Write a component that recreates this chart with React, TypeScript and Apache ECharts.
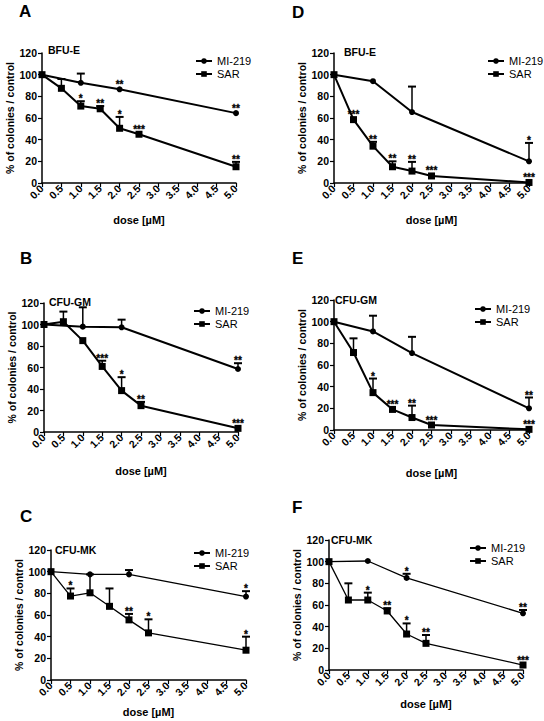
import React, { useEffect, useRef } from "react";
import * as echarts from "echarts";

const FONT = "Liberation Sans, Arial, sans-serif";

// doses
const miDoses = [0, 1, 2, 5];
const sarDoses = [0, 0.5, 1, 1.5, 2, 2.5, 5];
const xTickValues = [0, 0.5, 1, 1.5, 2, 2.5, 3, 3.5, 4, 4.5, 5];

// A  BFU-E
const miA = [100, 92.5, 86.5, 64.5];
const miAErr = [null, 101, null, null];
const miASig = ["", "", "**", "**"];
const sarA = [100, 87.4, 71, 68.5, 50.5, 45, 15];
const sarAErr = [null, 96, 75.5, 71, 61, null, 19.5];
const sarASig = ["", "", "*", "**", "*", "***", "**"];

// D  BFU-E
const miD = [100, 94, 65.5, 20];
const miDErr = [null, null, 89, 37];
const miDSig = ["", "", "", "*"];
const sarD = [100, 58.5, 34, 15, 11, 6.5, 0.5];
const sarDErr = [null, null, 38, 20, 19.5, null, null];
const sarDSig = ["", "***", "**", "**", "**", "***", "***"];

// B  CFU-GM
const miB = [100, 98, 97.4, 58.6];
const miBErr = [null, 116, 104.5, 64];
const miBSig = ["", "", "", "**"];
const sarB = [100, 102.6, 85, 61, 38.5, 24.5, 3.4];
const sarBErr = [null, 112, null, 66.3, 51, 28, null];
const sarBSig = ["", "", "", "***", "*", "**", "***"];

// E  CFU-GM
const miE = [100, 91, 71, 20];
const miEErr = [null, 105.5, 86, 30];
const miESig = ["", "", "", "**"];
const sarE = [100, 71.5, 34.5, 19, 11.5, 4.6, 0.6];
const sarEErr = [null, 84.6, 47.5, null, 22.5, null, null];
const sarESig = ["", "", "*", "***", "**", "***", "***"];

// C  CFU-MK
const miC = [100, 97.5, 97.5, 77];
const miCErr = [null, null, 101.5, 82];
const miCSig = ["", "", "", "*"];
const sarC = [100, 77.5, 80.5, 68, 55.5, 43.5, 27.5];
const sarCErr = [null, 84.5, 97.5, 84.5, 61, 56, 40];
const sarCSig = ["", "*", "", "", "**", "*", "*"];

// F  CFU-MK
const miF = [100, 100.6, 85, 52.3];
const miFErr = [null, null, 88.8, 55.4];
const miFSig = ["", "", "*", "**"];
const sarF = [100, 64.6, 64.6, 54.5, 33.2, 24.6, 4.6];
const sarFErr = [null, 80, 71.4, 57, 43, 32.3, null];
const sarFSig = ["", "", "*", "**", "*", "**", "***"];

const panelLetters = ["A", "D", "B", "E", "C", "F"];
const panelTitles = ["BFU-E", "BFU-E", "CFU-GM", "CFU-GM", "CFU-MK", "CFU-MK"];
const seriesNames = ["MI-219", "SAR"];
const xTitle = "dose [µM]";
const yTitle = "% of colonies / control";

const panelData = [
  { mi: miA, miErr: miAErr, miSig: miASig, sar: sarA, sarErr: sarAErr, sarSig: sarASig },
  { mi: miD, miErr: miDErr, miSig: miDSig, sar: sarD, sarErr: sarDErr, sarSig: sarDSig },
  { mi: miB, miErr: miBErr, miSig: miBSig, sar: sarB, sarErr: sarBErr, sarSig: sarBSig },
  { mi: miE, miErr: miEErr, miSig: miESig, sar: sarE, sarErr: sarEErr, sarSig: sarESig },
  { mi: miC, miErr: miCErr, miSig: miCSig, sar: sarC, sarErr: sarCErr, sarSig: sarCSig },
  { mi: miF, miErr: miFErr, miSig: miFSig, sar: sarF, sarErr: sarFErr, sarSig: sarFSig },
];

// layout (pixels)
const layout = [
  { left: 42, top: 53, width: 194, height: 130, letter: [19, 11], sub: [48, 50], legend: [195, 55.5], xGap: 31, yGap: 26, lw: 2 },
  { left: 334, top: 53, width: 195, height: 130, letter: [292, 12.5], sub: [344, 52], legend: [487, 55.5], xGap: 31, yGap: 23.5, lw: 2 },
  { left: 44, top: 303, width: 194, height: 129, letter: [20, 258.5], sub: [49, 302], legend: [193, 305.5], xGap: 33, yGap: 27, lw: 2 },
  { left: 334, top: 300, width: 195, height: 130, letter: [292, 258.5], sub: [335, 300], legend: [474, 303.5], xGap: 37, yGap: 24.5, lw: 2 },
  { left: 51, top: 550, width: 195, height: 130, letter: [20, 516], sub: [55, 550], legend: [193, 547.5], xGap: 26, yGap: 22.5, lw: 1.3 },
  { left: 329, top: 540, width: 194, height: 130, letter: [292, 507.5], sub: [331, 540], legend: [469, 542.5], xGap: 28, yGap: 22.5, lw: 1.3 },
];

function errSeries(i: number, xs: number[], ys: number[], errs: (number | null)[]) {
  const data: number[][] = [];
  xs.forEach((x, k) => {
    const e = errs[k];
    if (e !== null && e !== undefined) data.push([x, ys[k], e]);
  });
  return {
    type: "custom",
    name: "err" + i,
    xAxisIndex: i,
    yAxisIndex: i,
    silent: true,
    z: 1,
    itemStyle: { color: "#000" },
    encode: { x: 0, y: [1, 2] },
    data,
    renderItem: (params: any, api: any) => {
      const x = api.value(0);
      const p0 = api.coord([x, api.value(1)]);
      const p1 = api.coord([x, api.value(2)]);
      return {
        type: "group",
        children: [
          { type: "line", shape: { x1: p0[0], y1: p0[1], x2: p1[0], y2: p1[1] }, style: { stroke: "#000", lineWidth: 1.5 } },
          { type: "line", shape: { x1: p1[0] - 4, y1: p1[1], x2: p1[0] + 4, y2: p1[1] }, style: { stroke: "#000", lineWidth: 2 } },
        ],
      };
    },
  };
}

function sigSeries(i: number, xs: number[], ys: number[], errs: (number | null)[], sig: string[]) {
  const data: number[][] = [];
  const labels: string[] = [];
  xs.forEach((x, k) => {
    if (!sig[k]) return;
    const e = errs[k];
    const hasErr = e !== null && e !== undefined;
    data.push([x, hasErr ? (e as number) : ys[k], hasErr ? 1 : 0]);
    labels.push(sig[k]);
  });
  return {
    type: "custom",
    name: "sig" + i,
    xAxisIndex: i,
    yAxisIndex: i,
    silent: true,
    z: 5,
    itemStyle: { color: "#000" },
    encode: { x: 0, y: 1 },
    data,
    renderItem: (params: any, api: any) => {
      const p = api.coord([api.value(0), api.value(1)]);
      const off = api.value(2) ? 2.5 : 5;
      return {
        type: "text",
        x: p[0],
        y: p[1] - off,
        style: {
          text: labels[params.dataIndex],
          textAlign: "center",
          textVerticalAlign: "middle",
          font: "bold 10px " + FONT,
          fill: "#000",
          stroke: "#000",
          lineWidth: 0.3,
        },
      };
    },
  };
}

export default function App() {
  const ref = useRef<HTMLDivElement>(null);
  useEffect(() => {
    if (!ref.current) return;
    const chart = echarts.init(ref.current, undefined, { renderer: "svg" });
    const grid: any[] = [];
    const xAxis: any[] = [];
    const yAxis: any[] = [];
    const series: any[] = [];
    const legend: any[] = [];
    const graphic: any[] = [];
    layout.forEach((L, i) => {
      const d = panelData[i];
      grid.push({ left: L.left, top: L.top, width: L.width, height: L.height, containLabel: false });
      xAxis.push({
        gridIndex: i,
        type: "value",
        min: 0,
        max: 5,
        interval: 0.5,
        axisLine: { show: true, onZero: false, lineStyle: { color: "#000", width: 1.5 } },
        axisTick: { show: true, length: 4, lineStyle: { color: "#000", width: 1.2 } },
        splitLine: { show: false },
        axisLabel: {
          rotate: 45,
          margin: 4,
          hideOverlap: false,
          showMinLabel: true,
          showMaxLabel: true,
          formatter: (v: number) => {
            const t = xTickValues.find((u) => Math.abs(u - v) < 1e-6);
            return t === undefined ? "" : t.toFixed(1);
          },
          fontSize: 10.5,
          fontWeight: "bold",
          color: "#000",
          fontFamily: FONT,
        },
        name: xTitle,
        nameLocation: "middle",
        nameGap: L.xGap,
        nameTextStyle: { fontSize: 11, fontWeight: "bold", color: "#000", fontFamily: FONT },
      });
      yAxis.push({
        gridIndex: i,
        type: "value",
        min: 0,
        max: 120,
        interval: 20,
        axisLine: { show: true, onZero: false, lineStyle: { color: "#000", width: 1.5 } },
        axisTick: { show: true, length: 4, lineStyle: { color: "#000", width: 1.2 } },
        splitLine: { show: false },
        axisLabel: { margin: 5, fontSize: 10.5, fontWeight: "bold", color: "#000", fontFamily: FONT },
        name: yTitle,
        nameLocation: "middle",
        nameGap: L.yGap,
        nameTextStyle: { fontSize: 10.5, fontWeight: "bold", color: "#000", fontFamily: FONT },
      });
      series.push(errSeries(i, miDoses, d.mi, d.miErr));
      series.push(errSeries(i, sarDoses, d.sar, d.sarErr));
      series.push({
        type: "line",
        name: seriesNames[0],
        xAxisIndex: i,
        yAxisIndex: i,
        data: miDoses.map((x, k) => [x, d.mi[k]]),
        symbol: "circle",
        symbolSize: 6,
        showAllSymbol: true,
        itemStyle: { color: "#000" },
        lineStyle: { color: "#000", width: L.lw },
        emphasis: { disabled: true },
        z: 3,
      });
      series.push({
        type: "line",
        name: seriesNames[1],
        xAxisIndex: i,
        yAxisIndex: i,
        data: sarDoses.map((x, k) => [x, d.sar[k]]),
        symbol: "rect",
        symbolSize: 7,
        showAllSymbol: true,
        itemStyle: { color: "#000" },
        lineStyle: { color: "#000", width: L.lw },
        emphasis: { disabled: true },
        z: 3,
      });
      series.push(sigSeries(i, miDoses, d.mi, d.miErr, d.miSig));
      series.push(sigSeries(i, sarDoses, d.sar, d.sarErr, d.sarSig));
      legend.push({
        left: L.legend[0],
        top: L.legend[1],
        orient: "vertical",
        padding: 0,
        itemGap: 2,
        itemWidth: 16,
        itemHeight: 7,
        selectedMode: false,
        data: seriesNames,
        textStyle: { fontSize: 11, color: "#000", fontFamily: FONT },
      });
      graphic.push({
        type: "text",
        x: L.letter[0],
        y: L.letter[1],
        style: { text: panelLetters[i], font: "bold 17px " + FONT, fill: "#000", textVerticalAlign: "middle" },
      });
      graphic.push({
        type: "text",
        x: L.sub[0],
        y: L.sub[1],
        style: { text: panelTitles[i], font: "bold 10.5px " + FONT, fill: "#000", textVerticalAlign: "middle" },
      });
    });
    chart.setOption({
      animation: false,
      backgroundColor: "#fff",
      color: ["#000"],
      textStyle: { fontFamily: FONT },
      grid,
      xAxis,
      yAxis,
      series,
      legend,
      graphic,
    });
    return () => chart.dispose();
  }, []);
  return <div ref={ref} style={{ position: "absolute", left: 0, top: 0, width: 544, height: 721 }} />;
}
